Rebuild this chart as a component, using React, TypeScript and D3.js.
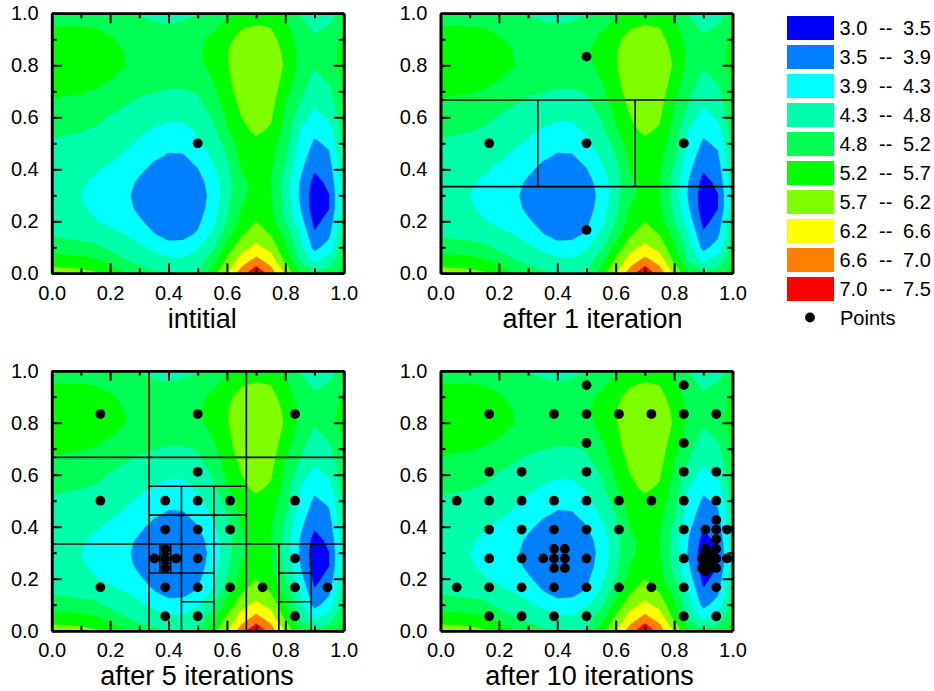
import React, { useEffect, useRef } from 'react';
import * as d3 from 'd3';

// contour grid: one list per x (0, .05 ... 1), values from y=0 up to y=1
const grid: number[][] = [
  [5.93, 5.45, 5.03, 4.75, 4.55, 4.45, 4.42, 4.44, 4.5, 4.62, 4.75, 4.9, 5.03, 5.2, 5.32, 5.42, 5.47, 5.47, 5.4, 5.25, 5.1],
  [5.9, 5.45, 5.0, 4.7, 4.5, 4.45, 4.4, 4.43, 4.47, 4.58, 4.7, 4.85, 5.0, 5.15, 5.3, 5.42, 5.5, 5.52, 5.43, 5.25, 5.05],
  [5.85, 5.4, 4.95, 4.65, 4.48, 4.41, 4.35, 4.41, 4.48, 4.56, 4.68, 4.82, 4.98, 5.13, 5.28, 5.43, 5.53, 5.55, 5.45, 5.25, 5.0],
  [5.75, 5.3, 4.9, 4.6, 4.38, 4.25, 4.2, 4.27, 4.4, 4.52, 4.62, 4.75, 4.92, 5.08, 5.22, 5.4, 5.58, 5.58, 5.45, 5.22, 4.98],
  [5.55, 5.1, 4.7, 4.45, 4.25, 4.12, 4.07, 4.12, 4.28, 4.42, 4.53, 4.65, 4.77, 4.93, 5.1, 5.28, 5.5, 5.57, 5.32, 5.05, 4.9],
  [5.27, 4.83, 4.58, 4.35, 4.2, 4.08, 4.03, 4.08, 4.17, 4.3, 4.42, 4.55, 4.68, 4.82, 4.97, 5.1, 5.27, 5.24, 5.12, 4.95, 4.85],
  [5.02, 4.68, 4.42, 4.2, 3.97, 3.78, 3.7, 3.82, 4.0, 4.15, 4.3, 4.42, 4.57, 4.72, 4.87, 5.0, 5.1, 5.12, 5.05, 4.9, 4.78],
  [4.88, 4.55, 4.25, 3.92, 3.7, 3.57, 3.52, 3.58, 3.77, 3.98, 4.15, 4.32, 4.47, 4.65, 4.82, 4.95, 5.05, 5.05, 5.0, 4.85, 4.72],
  [4.78, 4.45, 4.05, 3.75, 3.58, 3.5, 3.48, 3.52, 3.65, 3.85, 4.03, 4.22, 4.42, 4.6, 4.77, 4.92, 5.02, 5.02, 4.98, 4.82, 4.68],
  [4.7, 4.42, 4.05, 3.78, 3.62, 3.52, 3.5, 3.55, 3.68, 3.86, 4.05, 4.23, 4.42, 4.6, 4.77, 4.93, 5.04, 5.07, 5.03, 4.87, 4.7],
  [4.78, 4.6, 4.3, 3.95, 3.8, 3.72, 3.72, 3.75, 3.88, 4.07, 4.25, 4.42, 4.57, 4.7, 4.83, 5.0, 5.12, 5.18, 5.12, 4.95, 4.78],
  [5.5, 5.05, 4.7, 4.42, 4.22, 4.07, 4.0, 4.07, 4.27, 4.42, 4.55, 4.68, 4.82, 5.0, 5.13, 5.27, 5.4, 5.45, 5.35, 5.15, 5.0],
  [6.1, 5.8, 5.4, 5.05, 4.82, 4.7, 4.63, 4.62, 4.68, 4.8, 4.95, 5.2, 5.32, 5.43, 5.52, 5.6, 5.66, 5.67, 5.58, 5.38, 5.18],
  [6.85, 6.35, 6.0, 5.65, 5.45, 5.27, 5.17, 5.18, 5.27, 5.38, 5.5, 5.62, 5.7, 5.8, 5.92, 5.98, 6.02, 6.0, 5.87, 5.65, 5.42],
  [7.45, 6.75, 6.25, 5.95, 5.7, 5.5, 5.38, 5.35, 5.42, 5.52, 5.62, 5.77, 5.9, 6.0, 6.08, 6.12, 6.13, 6.1, 5.95, 5.72, 5.5],
  [6.85, 6.4, 6.0, 5.68, 5.45, 5.33, 5.28, 5.27, 5.3, 5.4, 5.52, 5.65, 5.76, 5.87, 5.95, 6.0, 6.02, 5.97, 5.85, 5.68, 5.48],
  [6.1, 5.6, 5.35, 5.1, 4.8, 4.68, 4.62, 4.62, 4.72, 4.87, 4.97, 5.07, 5.17, 5.25, 5.4, 5.55, 5.65, 5.6, 5.5, 5.35, 5.2],
  [5.3, 4.72, 4.5, 4.36, 4.1, 3.93, 3.83, 3.88, 4.0, 4.12, 4.23, 4.35, 4.57, 4.78, 4.92, 5.03, 5.13, 5.15, 5.08, 4.95, 4.78],
  [4.9, 4.25, 3.75, 3.5, 3.33, 3.2, 3.22, 3.3, 3.5, 3.68, 3.83, 4.0, 4.2, 4.4, 4.55, 4.7, 4.85, 4.95, 4.88, 4.7, 4.5],
  [5.05, 4.55, 4.1, 3.8, 3.6, 3.44, 3.44, 3.55, 3.68, 3.83, 3.98, 4.2, 4.42, 4.58, 4.72, 4.87, 5.0, 5.0, 4.92, 4.82, 4.65],
  [5.45, 5.15, 5.0, 4.9, 4.78, 4.58, 4.55, 4.6, 4.72, 4.83, 4.92, 5.0, 5.08, 5.15, 5.22, 5.3, 5.5, 5.45, 5.35, 5.1, 4.93],
];

const levels = [3.0, 3.45, 3.9, 4.35, 4.8, 5.25, 5.7, 6.15, 6.6, 7.05];
const bandColors = ['#0000ff', '#0080ff', '#00ffff', '#00ffaa', '#00ff55', '#00ff00', '#80ff00', '#ffff00', '#ff8000', '#ff0000'];
const legendLow = ['3.0', '3.5', '3.9', '4.3', '4.8', '5.2', '5.7', '6.2', '6.6', '7.0'];
const legendHigh = ['3.5', '3.9', '4.3', '4.8', '5.2', '5.7', '6.2', '6.6', '7.0', '7.5'];

const titles = ['intitial', 'after 1 iteration', 'after 5 iterations', 'after 10 iterations'];
const titleCenter = [202.2, 592.5, 197, 589.5];
const majorTicks = [0, 0.2, 0.4, 0.6, 0.8, 1];
const minorTicks = [0.1, 0.3, 0.5, 0.7, 0.9];

// sample points, [x, y]
const points1 = [[0.5, 0.5]];
const points2 = [[0.1667, 0.5], [0.5, 0.5], [0.8333, 0.5], [0.5, 0.8333], [0.5, 0.1667]];
const points3 = [
  [0.1667, 0.8333], [0.5, 0.8333], [0.8333, 0.8333], [0.5, 0.6111],
  [0.1667, 0.5], [0.3889, 0.5], [0.5, 0.5], [0.6111, 0.5], [0.8333, 0.5],
  [0.3889, 0.3889], [0.5, 0.3889], [0.6111, 0.3889],
  [0.3519, 0.2778], [0.3889, 0.2778], [0.4259, 0.2778], [0.5, 0.2778], [0.8333, 0.2778],
  [0.3889, 0.3148], [0.3889, 0.2407],
  [0.1667, 0.1667], [0.3889, 0.1667], [0.5, 0.1667], [0.6111, 0.1667], [0.7222, 0.1667], [0.8333, 0.1667], [0.9444, 0.1667],
  [0.3889, 0.0556], [0.5, 0.0556], [0.8333, 0.0556],
];
const points4 = [
  [0.5, 0.9444], [0.8333, 0.9444],
  [0.1667, 0.8333], [0.3889, 0.8333], [0.5, 0.8333], [0.6111, 0.8333], [0.7222, 0.8333], [0.8333, 0.8333], [0.9444, 0.8333],
  [0.5, 0.7222], [0.8333, 0.7222],
  [0.1667, 0.6111], [0.2778, 0.6111], [0.5, 0.6111], [0.8333, 0.6111], [0.9444, 0.6111],
  [0.0556, 0.5], [0.1667, 0.5], [0.2778, 0.5], [0.3889, 0.5], [0.5, 0.5], [0.6111, 0.5], [0.7222, 0.5], [0.8333, 0.5], [0.9444, 0.5],
  [0.9444, 0.4259],
  [0.1667, 0.3889], [0.2778, 0.3889], [0.3889, 0.3889], [0.5, 0.3889], [0.6111, 0.3889], [0.8333, 0.3889], [0.9074, 0.3889], [0.9444, 0.3889], [0.9815, 0.3889],
  [0.9444, 0.3519],
  [0.3889, 0.3148], [0.4259, 0.3148], [0.9074, 0.3148], [0.9444, 0.3148],
  [0.1667, 0.2778], [0.2778, 0.2778], [0.3519, 0.2778], [0.3889, 0.2778], [0.4259, 0.2778], [0.5, 0.2778], [0.8333, 0.2778],
  [0.8951, 0.2778], [0.9074, 0.2778], [0.9198, 0.2778], [0.9321, 0.2778], [0.9444, 0.2778], [0.9815, 0.2778],
  [0.9074, 0.2901], [0.9074, 0.2654], [0.9198, 0.2654], [0.9198, 0.2901],
  [0.3889, 0.2407], [0.4259, 0.2407], [0.8951, 0.2407], [0.9074, 0.2407], [0.9198, 0.2407], [0.9444, 0.2407], [0.9074, 0.2284],
  [0.0556, 0.1667], [0.1667, 0.1667], [0.2778, 0.1667], [0.3889, 0.1667], [0.5, 0.1667], [0.6111, 0.1667], [0.7222, 0.1667], [0.8333, 0.1667], [0.9444, 0.1667],
  [0.1667, 0.0556], [0.2778, 0.0556], [0.3889, 0.0556], [0.5, 0.0556], [0.8333, 0.0556], [0.9444, 0.0556],
];

// partition lines, [x1, y1, x2, y2]
const lines1: number[][] = [];
const lines2 = [
  [0, 0.3333, 1, 0.3333], [0, 0.6667, 1, 0.6667],
  [0.3333, 0.3333, 0.3333, 0.6667], [0.6667, 0.3333, 0.6667, 0.6667],
];
const lines3 = [
  [0, 0.3333, 1, 0.3333], [0, 0.6667, 1, 0.6667],
  [0.3333, 0, 0.3333, 1], [0.6667, 0, 0.6667, 1],
  [0.3333, 0.5556, 0.6667, 0.5556], [0.3333, 0.4444, 0.6667, 0.4444],
  [0.4444, 0, 0.4444, 0.5556], [0.5556, 0, 0.5556, 0.5556],
  [0.3333, 0.2222, 0.5556, 0.2222], [0.4444, 0.1111, 0.5556, 0.1111],
  [0.3704, 0.2222, 0.3704, 0.3333], [0.4074, 0.2222, 0.4074, 0.3333],
  [0.3704, 0.2593, 0.4074, 0.2593], [0.3704, 0.2963, 0.4074, 0.2963],
  [0.7778, 0, 0.7778, 0.3333], [0.8889, 0, 0.8889, 0.3333],
  [0.7778, 0.2222, 0.8889, 0.2222], [0.7778, 0.1111, 0.8889, 0.1111],
];
const lines4: number[][] = [];

const panelPoints = [points1, points2, points3, points4];
const panelLines = [lines1, lines2, lines3, lines4];
const panelLeft = [51.7, 440.5, 51.7, 440.5];
const panelTop = [13.3, 13.3, 370.7, 370.7];

const FONT = '"Liberation Sans", Arial, sans-serif';

function drawPanel(svg: any, idx: number) {
  const w = 292;
  const h = 260;
  const g = svg.append('g').attr('transform', `translate(${panelLeft[idx]},${panelTop[idx]})`);
  const x = d3.scaleLinear().domain([0, 1]).range([0, w]);
  const y = d3.scaleLinear().domain([0, 1]).range([h, 0]);

  // d3.contours puts grid value i at i + .5
  const gx = d3.scaleLinear().domain([0.5, 20.5]).range([0, w]);
  const gy = d3.scaleLinear().domain([0.5, 20.5]).range([h, 0]);
  const path = d3.geoPath(d3.geoTransform({
    point(px: number, py: number) {
      (this as any).stream.point(gx(px), gy(py));
    },
  }));

  const flat: number[] = [];
  for (let j = 0; j < 21; j++) {
    for (let i = 0; i < 21; i++) flat.push(grid[i][j]);
  }
  const bands = d3.contours().size([21, 21]).thresholds(levels)(flat);

  g.append('clipPath').attr('id', 'clip' + idx)
    .append('rect').attr('width', w).attr('height', h);
  g.append('g').attr('clip-path', `url(#clip${idx})`)
    .selectAll('path').data(bands).enter().append('path')
    .attr('d', (d: any) => path(d))
    .attr('fill', (d: any, i: number) => bandColors[i]);

  g.append('g').selectAll('line').data(panelLines[idx]).enter().append('line')
    .attr('x1', (d: number[]) => x(d[0])).attr('y1', (d: number[]) => y(d[1]))
    .attr('x2', (d: number[]) => x(d[2])).attr('y2', (d: number[]) => y(d[3]))
    .attr('stroke', '#000').attr('stroke-width', 1.6);

  g.append('g').selectAll('circle').data(panelPoints[idx]).enter().append('circle')
    .attr('cx', (d: number[]) => x(d[0])).attr('cy', (d: number[]) => y(d[1]))
    .attr('r', 4.9).attr('fill', '#000');

  // axes on all four sides, ticks pointing in
  const fmt = d3.format('.1f');
  const none = () => '';
  const axes: any[] = [
    [d3.axisBottom(x).tickValues(majorTicks).tickSizeInner(-10).tickSizeOuter(0).tickPadding(12.5).tickFormat(fmt as any), `translate(0,${h})`],
    [d3.axisLeft(y).tickValues(majorTicks).tickSizeInner(-10).tickSizeOuter(0).tickPadding(13).tickFormat(fmt as any), null],
    [d3.axisTop(x).tickValues(majorTicks).tickSizeInner(-10).tickSizeOuter(0).tickFormat(none as any), null],
    [d3.axisRight(y).tickValues(majorTicks).tickSizeInner(-10).tickSizeOuter(0).tickFormat(none as any), `translate(${w},0)`],
    [d3.axisBottom(x).tickValues(minorTicks).tickSizeInner(-5).tickSizeOuter(0).tickFormat(none as any), `translate(0,${h})`],
    [d3.axisLeft(y).tickValues(minorTicks).tickSizeInner(-5).tickSizeOuter(0).tickFormat(none as any), null],
    [d3.axisTop(x).tickValues(minorTicks).tickSizeInner(-5).tickSizeOuter(0).tickFormat(none as any), null],
    [d3.axisRight(y).tickValues(minorTicks).tickSizeInner(-5).tickSizeOuter(0).tickFormat(none as any), `translate(${w},0)`],
  ];
  axes.forEach(([axis, tr]) => {
    const a = g.append('g').call(axis);
    if (tr) a.attr('transform', tr);
    a.attr('font-size', 20).attr('font-family', FONT);
    a.selectAll('path').attr('stroke', '#000').attr('stroke-width', 2.6);
    a.selectAll('line').attr('stroke', '#000').attr('stroke-width', 2);
    a.selectAll('text').attr('fill', '#000');
  });

  g.append('text')
    .attr('x', titleCenter[idx] - panelLeft[idx]).attr('y', h + 54.5)
    .attr('text-anchor', 'middle')
    .attr('font-size', 27).attr('font-family', FONT)
    .text(titles[idx]);
}

function drawLegend(svg: any) {
  const rows = d3.scaleBand<number>().domain(d3.range(10)).range([16, 306]);
  const g = svg.append('g').attr('font-size', 20).attr('font-family', FONT);
  legendLow.forEach((low, i) => {
    const top = rows(i) as number;
    g.append('rect').attr('x', 787).attr('y', top).attr('width', 47).attr('height', 24).attr('fill', bandColors[i]);
    g.append('text').attr('x', 839.5).attr('y', top + 19).text(low);
    g.append('text').attr('x', 879).attr('y', top + 19).text('--');
    g.append('text').attr('x', 903).attr('y', top + 19).text(legendHigh[i]);
  });
  g.append('circle').attr('cx', 810).attr('cy', 317.5).attr('r', 4.9).attr('fill', '#000');
  g.append('text').attr('x', 840).attr('y', 325).text('Points');
}

export default function App() {
  const ref = useRef<SVGSVGElement>(null);

  useEffect(() => {
    const svg = d3.select(ref.current);
    svg.selectAll('*').remove();
    for (let i = 0; i < 4; i++) drawPanel(svg, i);
    drawLegend(svg);
  }, []);

  return <svg ref={ref} width={934} height={691} style={{ position: 'absolute', left: 0, top: 0 }} />;
}
